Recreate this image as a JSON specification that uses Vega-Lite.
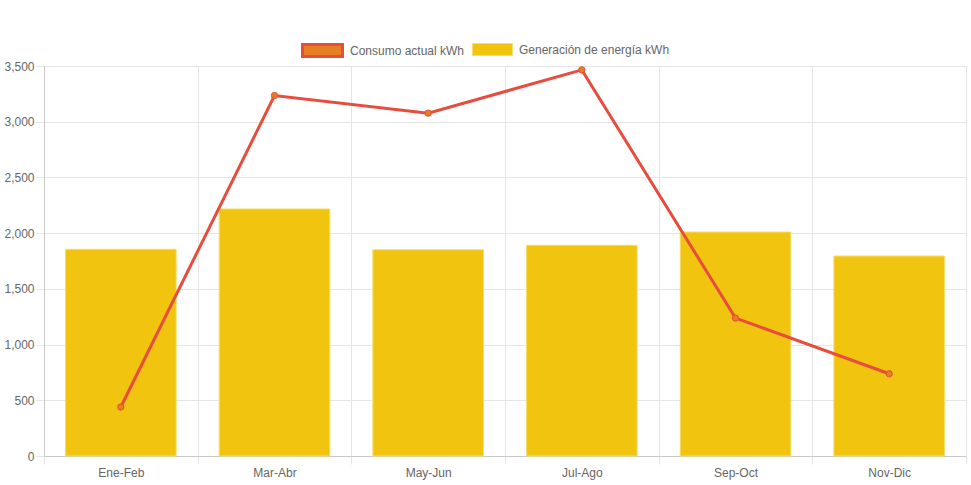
{
  "$schema": "https://vega.github.io/schema/vega-lite/v6.json",
  "description": "Consumo vs generación de energía por bimestre",
  "width": 922,
  "height": 390,
  "autosize": {"type": "none"},
  "padding": {"left": 44, "top": 66, "right": 5, "bottom": 29},
  "background": "white",
  "config": {
    "font": "Liberation Sans",
    "view": {"stroke": "#e5e5e5"},
    "axis": {
      "labelFont": "Liberation Sans",
      "labelFontSize": 12,
      "labelColor": "#666666",
      "gridColor": "#e5e5e5",
      "tickColor": "#e5e5e5",
      "tickSize": 8,
      "domainColor": "#c8c8c8",
      "title": null
    },
    "legend": {
      "orient": "none",
      "direction": "horizontal",
      "padding": 0,
      "title": null,
      "symbolType": "M-1,-0.3H1V0.3H-1Z",
      "symbolSize": 1600,
      "symbolOpacity": 1,
      "labelFontSize": 12,
      "labelColor": "#666666",
      "labelOffset": 6
    }
  },
  "data": {
    "values": [
      {"periodo": "Ene-Feb", "consumo": 440, "generacion": 1855},
      {"periodo": "Mar-Abr", "consumo": 3235, "generacion": 2217},
      {"periodo": "May-Jun", "consumo": 3077, "generacion": 1851},
      {"periodo": "Jul-Ago", "consumo": 3465, "generacion": 1891},
      {"periodo": "Sep-Oct", "consumo": 1238, "generacion": 2010},
      {"periodo": "Nov-Dic", "consumo": 738, "generacion": 1795}
    ]
  },
  "encoding": {
    "x": {
      "field": "periodo",
      "type": "nominal",
      "sort": null,
      "scale": {"paddingInner": 0, "paddingOuter": 0},
      "axis": {"labelAngle": 0, "tickBand": "extent", "grid": true, "labelPadding": 3}
    }
  },
  "layer": [
    {
      "mark": {"type": "bar", "width": {"band": 0.72}, "stroke": "#f7dc6f", "strokeWidth": 1},
      "encoding": {
        "y": {
          "field": "generacion",
          "type": "quantitative",
          "scale": {"domain": [0, 3500], "nice": false},
          "axis": {"values": [0, 500, 1000, 1500, 2000, 2500, 3000, 3500], "format": ",d", "labelPadding": 2}
        },
        "color": {
          "datum": "Generación de energía kWh",
          "type": "nominal",
          "scale": {"domain": ["Generación de energía kWh"], "range": ["#f1c40f"]},
          "legend": {
            "legendX": 428,
            "legendY": -37,
            "symbolStrokeColor": "#f7dc6f",
            "symbolStrokeWidth": 1
          }
        }
      }
    },
    {
      "mark": {"type": "line", "strokeWidth": 3},
      "encoding": {
        "y": {"field": "consumo", "type": "quantitative"},
        "stroke": {
          "datum": "Consumo actual kWh",
          "type": "nominal",
          "scale": {"domain": ["Consumo actual kWh"], "range": ["#e74c3c"]},
          "legend": {
            "legendX": 257,
            "legendY": -37,
            "symbolFillColor": "#e67e22",
            "symbolStrokeWidth": 3
          }
        }
      }
    },
    {
      "mark": {"type": "point", "filled": true, "fill": "#e67e22", "stroke": "#e74c3c", "strokeWidth": 1, "size": 40, "opacity": 1},
      "encoding": {
        "y": {"field": "consumo", "type": "quantitative"}
      }
    }
  ]
}
